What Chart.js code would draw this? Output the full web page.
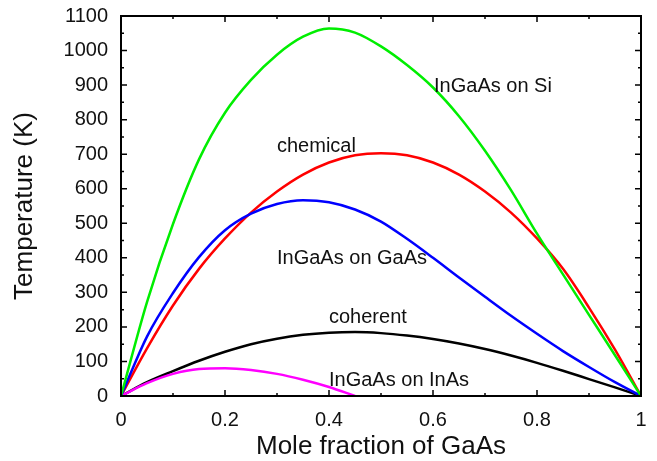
<!DOCTYPE html>
<html>
<head>
<meta charset="utf-8">
<script src="https://cdn.jsdelivr.net/npm/chart.js@4"></script>
<style>
  html, body { margin: 0; padding: 0; background: #fff; }
</style>
</head>
<body>
<canvas id="chart" width="657" height="461"></canvas>
<script>
// Spinodal temperatures of InGaAs vs. GaAs mole fraction

const fracX = [0, 0.05, 0.1, 0.15, 0.2, 0.25, 0.3, 0.35, 0.4, 0.45, 0.5, 0.55, 0.6, 0.65, 0.7, 0.75, 0.8, 0.85, 0.9, 0.95, 1];

const siT   = [0, 272, 498, 685, 820, 915, 988, 1040, 1064, 1052, 1012, 958, 893, 810, 710, 596, 470, 352, 235, 118, 0];
const chemT = [0, 138, 262, 368, 456, 531, 592, 641, 676, 697, 703, 697, 676, 641, 592, 531, 456, 368, 256, 134, 0];
const gaasT = [0, 172, 298, 402, 480, 528, 556, 567, 561, 540, 505, 455, 400, 343, 287, 232, 180, 130, 84, 40, 0];
const cohT  = [0, 40, 72, 102, 128, 150, 166, 177, 183, 185, 182, 175, 165, 152, 136, 117, 96, 73, 49, 25, 0];

const inasX = [0, 0.05, 0.1, 0.15, 0.2, 0.25, 0.3, 0.35, 0.4, 0.45];
const inasT = [0, 37, 64, 78, 80, 75, 64, 47, 26, 0];

const xTicks = [0, 0.2, 0.4, 0.6, 0.8, 1];
const yTicks = [0, 100, 200, 300, 400, 500, 600, 700, 800, 900, 1000, 1100];

const curveLabels = [
  { text: 'InGaAs on Si',   x: 0.602, y: 897 },
  { text: 'chemical',       x: 0.30,  y: 721 },
  { text: 'InGaAs on GaAs', x: 0.30,  y: 399 },
  { text: 'coherent',       x: 0.40,  y: 226 },
  { text: 'InGaAs on InAs', x: 0.40,  y: 46 }
];

const FONT = "'Liberation Sans', Arial, sans-serif";

function toPoints(xs, ys) {
  return xs.map((x, i) => ({ x: x, y: ys[i] }));
}

function curve(label, xs, ys, color, order) {
  return {
    label: label,
    data: toPoints(xs, ys),
    borderColor: color,
    borderWidth: 2.5,
    pointRadius: 0,
    cubicInterpolationMode: 'monotone',
    fill: false,
    order: order
  };
}

// frame with inward ticks on all four sides, plus the curve names
const frameAndLabels = {
  id: 'frameAndLabels',
  afterDatasetsDraw(chart) {
    const { ctx, chartArea: a, scales: { x, y } } = chart;
    ctx.save();
    ctx.strokeStyle = '#000';
    ctx.lineWidth = 1.5;
    ctx.beginPath();
    for (let i = 0; i <= 10; i++) {
      const px = x.getPixelForValue(i / 10);
      const len = i % 2 === 0 ? 6 : 3;
      ctx.moveTo(px, a.bottom); ctx.lineTo(px, a.bottom - len);
      ctx.moveTo(px, a.top); ctx.lineTo(px, a.top + len);
    }
    for (let i = 0; i <= 22; i++) {
      const py = y.getPixelForValue(i * 50);
      const len = i % 2 === 0 ? 6 : 3;
      ctx.moveTo(a.left, py); ctx.lineTo(a.left + len, py);
      ctx.moveTo(a.right, py); ctx.lineTo(a.right - len, py);
    }
    ctx.stroke();

    ctx.lineWidth = 2;
    ctx.strokeRect(a.left, a.top, a.right - a.left, a.bottom - a.top);

    ctx.fillStyle = '#111';
    ctx.font = '20px ' + FONT;
    ctx.textAlign = 'left';
    ctx.textBaseline = 'middle';
    curveLabels.forEach(l => {
      ctx.fillText(l.text, x.getPixelForValue(l.x), y.getPixelForValue(l.y));
    });
    ctx.restore();
  }
};

new Chart(document.getElementById('chart'), {
  type: 'line',
  data: {
    datasets: [
      curve('InGaAs on Si', fracX, siT, '#00ee00', 0),
      curve('InGaAs on GaAs', fracX, gaasT, '#0000ff', 1),
      curve('InGaAs on InAs', inasX, inasT, '#ff00ff', 1),
      curve('chemical', fracX, chemT, '#ff0000', 2),
      curve('coherent', fracX, cohT, '#000000', 3)
    ]
  },
  options: {
    responsive: false,
    animation: false,
    layout: { padding: { top: 16, right: 16, left: 0, bottom: 0 } },
    plugins: {
      legend: { display: false },
      tooltip: { enabled: false }
    },
    scales: {
      x: {
        type: 'linear',
        min: 0,
        max: 1,
        afterBuildTicks: s => { s.ticks = xTicks.map(v => ({ value: v })); },
        afterFit: s => { s.height = 65; s.paddingLeft = 0; s.paddingRight = 0; },
        grid: { display: false, drawTicks: false },
        border: { display: false },
        ticks: {
          padding: 12,
          color: '#111',
          font: { family: FONT, size: 20 },
          maxRotation: 0,
          callback: v => String(v)
        },
        title: {
          display: true,
          text: 'Mole fraction of GaAs',
          color: '#111',
          font: { family: FONT, size: 26, lineHeight: 1.1 },
          padding: { top: 0, bottom: 0 }
        }
      },
      y: {
        min: 0,
        max: 1100,
        afterBuildTicks: s => { s.ticks = yTicks.map(v => ({ value: v })); },
        afterFit: s => { s.width = 121; s.paddingTop = 0; s.paddingBottom = 0; },
        grid: { display: false, drawTicks: false },
        border: { display: false },
        ticks: {
          padding: 13,
          color: '#111',
          font: { family: FONT, size: 20 },
          callback: v => String(v)
        },
        title: {
          display: true,
          text: 'Temperature (K)',
          color: '#111',
          font: { family: FONT, size: 26, lineHeight: 1.2 },
          padding: { top: 9, bottom: 0 }
        }
      }
    }
  },
  plugins: [frameAndLabels]
});
</script>
</body>
</html>
